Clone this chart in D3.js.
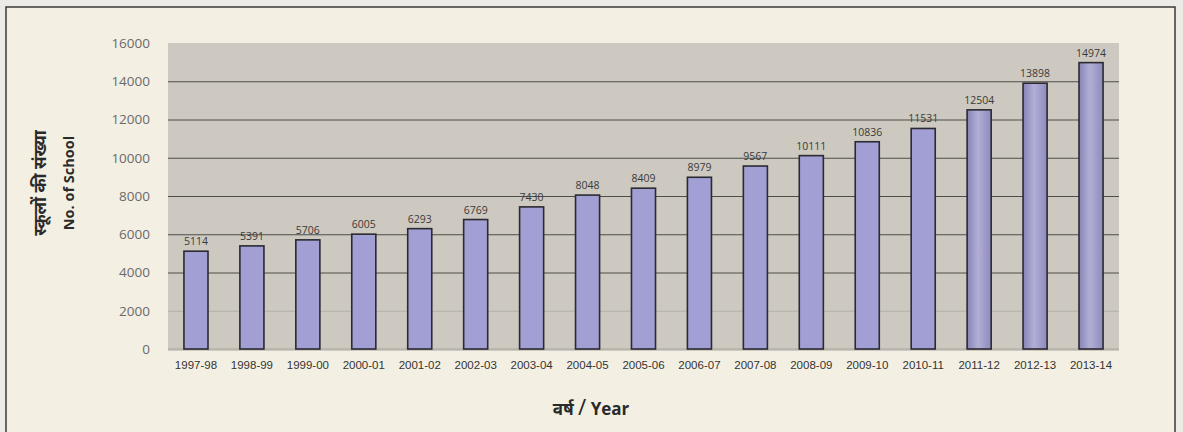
<!DOCTYPE html>
<html>
<head>
<meta charset="utf-8">
<script src="https://cdn.jsdelivr.net/npm/d3@7"></script>
<style>
  html, body { margin: 0; padding: 0; background: #ecebe6; }
  svg { display: block; }
</style>
</head>
<body>
<svg id="chart" width="1183" height="432"></svg>
<script>
const categories = ["1997-98","1998-99","1999-00","2000-01","2001-02","2002-03","2003-04","2004-05","2005-06","2006-07","2007-08","2008-09","2009-10","2010-11","2011-12","2012-13","2013-14"];
const schools = [5114,5391,5706,6005,6293,6769,7430,8048,8409,8979,9567,10111,10836,11531,12504,13898,14974];
const yTicks = [0,2000,4000,6000,8000,10000,12000,14000,16000];
const yTitleHindi = "स्कूलों की संख्या";
const yTitleEnglish = "No. of School";
const xTitleHindi = "वर्ष";
const xTitleEnglish = "Year";

const svg = d3.select("#chart");
const plot = { left: 168, right: 1119, top: 43, bottom: 349 };

const defs = svg.append("defs");
const grad = defs.append("linearGradient").attr("id", "cyl").attr("x1", "0").attr("x2", "1").attr("y1", "0").attr("y2", "0");
grad.append("stop").attr("offset", "0%").attr("stop-color", "#8783b6");
grad.append("stop").attr("offset", "45%").attr("stop-color", "#b2afd6");
grad.append("stop").attr("offset", "100%").attr("stop-color", "#8e8abd");

// outer card
svg.append("rect").attr("x", 6).attr("y", 7).attr("width", 1169).attr("height", 440)
  .attr("fill", "#f3f0e3").attr("stroke", "#3a3a3a").attr("stroke-width", 1.5);

const x = d3.scaleBand().domain(categories).range([plot.left, plot.right]).paddingInner(0.57).paddingOuter(0.285);
const y = d3.scaleLinear().domain([0, 16000]).range([plot.bottom, plot.top]);

// plot area background
svg.append("rect").attr("x", plot.left).attr("y", plot.top)
  .attr("width", plot.right - plot.left).attr("height", plot.bottom - plot.top + 2)
  .attr("fill", "#cdc9c0");

// gridlines
const grid = svg.append("g")
  .attr("transform", `translate(${plot.left},0)`)
  .call(d3.axisLeft(y).tickValues(yTicks.filter(v => v > 0 && v < 16000)).tickSize(-(plot.right - plot.left)).tickFormat(""));
grid.select(".domain").remove();
grid.selectAll(".tick line")
  .attr("stroke", d => d === 2000 ? "#b3b0a8" : "#4e4c48")
  .attr("stroke-width", 1);

// zero line
svg.append("line").attr("x1", plot.left).attr("x2", plot.right)
  .attr("y1", y(0)).attr("y2", y(0)).attr("stroke", "#a7a49d").attr("stroke-width", 1);

// y axis labels
const yAxis = svg.append("g")
  .attr("transform", `translate(${plot.left},0)`)
  .call(d3.axisLeft(y).tickValues(yTicks).tickSize(0).tickPadding(18).tickFormat(d3.format("d")));
yAxis.select(".domain").remove();
yAxis.selectAll("text")
  .attr("fill", "#6a6a6a")
  .style("font-family", "'Open Sans', 'Noto Sans', sans-serif")
  .style("font-size", "13.5px");

// bars
svg.append("g").selectAll("rect").data(schools).join("rect")
  .attr("x", (d, i) => x(categories[i]))
  .attr("y", d => y(d))
  .attr("width", x.bandwidth())
  .attr("height", d => y(0) - y(d))
  .attr("fill", (d, i) => i >= 14 ? "url(#cyl)" : "#a29fd4")
  .attr("stroke", "#2b2a30")
  .attr("stroke-width", 1.6);

// value labels
svg.append("g").selectAll("text").data(schools).join("text")
  .attr("x", (d, i) => x(categories[i]) + x.bandwidth() / 2)
  .attr("y", d => y(d) - 6)
  .attr("text-anchor", "middle")
  .attr("fill", "#3a3a3a")
  .style("font-family", "'Open Sans', 'Noto Sans', sans-serif")
  .style("font-size", "10.5px")
  .text(d => d);

// x axis labels
const xAxis = svg.append("g")
  .attr("transform", `translate(0,${plot.bottom})`)
  .call(d3.axisBottom(x).tickSize(0).tickPadding(12));
xAxis.select(".domain").remove();
xAxis.selectAll("text")
  .attr("fill", "#333")
  .style("font-family", "'Liberation Sans', Arial, sans-serif")
  .style("font-size", "11.5px");

// y title
const yt = svg.append("g").attr("transform", "translate(0,183)");
yt.append("text").attr("transform", "translate(46,0) rotate(-90)")
  .attr("text-anchor", "middle")
  .attr("fill", "#2a2a2a")
  .style("font-family", "'Noto Sans', sans-serif")
  .style("font-weight", "bold").style("font-size", "17px")
  .text(yTitleHindi);
yt.append("text").attr("transform", "translate(74,0) rotate(-90)")
  .attr("text-anchor", "middle")
  .attr("fill", "#2a2a2a")
  .style("font-family", "'Open Sans', 'Noto Sans', sans-serif")
  .style("font-weight", "bold").style("font-size", "14.5px")
  .text(yTitleEnglish);

// x title
const xt = svg.append("text").attr("x", 591).attr("y", 415)
  .attr("text-anchor", "middle")
  .attr("fill", "#2a2a2a")
  .style("font-family", "'Noto Sans', sans-serif")
  .style("font-size", "17px");
xt.append("tspan").style("font-weight", "bold").text(xTitleHindi + " ");
xt.append("tspan").style("font-size", "22px").style("font-weight", "normal").text("/");
xt.append("tspan").style("font-weight", "bold").style("font-family", "'Open Sans', sans-serif").text(" " + xTitleEnglish);
</script>
</body>
</html>
